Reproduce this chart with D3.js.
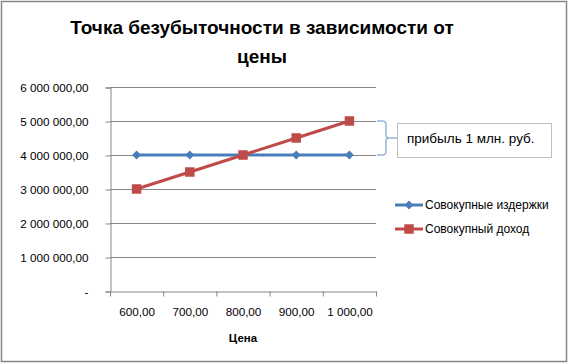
<!DOCTYPE html>
<html lang="ru">
<head>
<meta charset="UTF-8">
<title>Точка безубыточности</title>
<script src="https://d3js.org/d3.v7.min.js"></script>
<style>
  body { margin: 0; background: #fff; }
  text { font-family: "Liberation Sans", Arial, sans-serif; fill: #000; }
</style>
</head>
<body>
<svg id="chart" width="569" height="364"></svg>
<script>
// data
const prices = [600, 700, 800, 900, 1000];
const costs = [4000000, 4000000, 4000000, 4000000, 4000000];
const revenue = [3000000, 3500000, 4000000, 4500000, 5000000];
const yTicks = [0, 1000000, 2000000, 3000000, 4000000, 5000000, 6000000];
const seriesNames = ["Совокупные издержки", "Совокупный доход"];
const noteText = "прибыль 1 млн. руб.";

const svg = d3.select("#chart");
const blue = "#4a7ebb", red = "#be4b48", axisGrey = "#868686";

// outer frame
svg.append("rect")
  .attr("x", 1.5).attr("y", 1.5).attr("width", 565).attr("height", 360)
  .attr("fill", "#fff").attr("stroke", axisGrey).attr("stroke-width", 1.5);

// title
const title = svg.append("text").attr("text-anchor", "middle")
  .attr("font-weight", "bold").attr("font-size", 19);
title.append("tspan").attr("x", 262).attr("y", 34).text("Точка безубыточности в зависимости от");
title.append("tspan").attr("x", 262).attr("y", 63).text("цены");

// scales
const x = d3.scaleBand().domain(prices).range([110, 376]);
const y = d3.scaleLinear().domain([0, 6000000]).range([291, 87]);

const fmt = v => v === 0 ? "-" :
  d3.format(",.2f")(v).replace(/,/g, " ").replace(".", ",");

// gridlines
svg.append("g").selectAll("line").data(yTicks.filter(d => d > 0)).join("line")
  .attr("x1", 110).attr("x2", 376)
  .attr("y1", d => Math.round(y(d)) + 0.5).attr("y2", d => Math.round(y(d)) + 0.5)
  .attr("stroke", axisGrey);

// y axis
const yAxis = svg.append("g").attr("transform", "translate(110.5,0.5)")
  .call(d3.axisLeft(y).tickValues(yTicks).tickSize(5).tickPadding(17).tickFormat(fmt));
// x axis
const xAxis = svg.append("g").attr("transform", "translate(0.5,291.5)")
  .call(d3.axisBottom(x).tickSize(0).tickPadding(16).tickFormat(fmt));
// x ticks on band boundaries
xAxis.append("g").selectAll("line")
  .data(prices.map(p => x(p)).concat([x.range()[1]])).join("line")
  .attr("x1", d => d).attr("x2", d => d).attr("y1", 0).attr("y2", 5)
  .attr("stroke", axisGrey);

[yAxis, xAxis].forEach(g => {
  g.select(".domain").attr("stroke", axisGrey);
  g.selectAll(".tick line").attr("stroke", axisGrey);
  g.selectAll("text").attr("font-size", 11.7).attr("fill", "#000")
    .style("font-family", '"Liberation Sans", Arial, sans-serif');
});

svg.append("text").attr("x", 243).attr("y", 342).attr("text-anchor", "middle")
  .attr("font-weight", "bold").attr("font-size", 11.5).text("Цена");

// lines
const cx = d => x(d) + x.bandwidth() / 2;
const line = d3.line().x((d, i) => cx(prices[i])).y(d => y(d));

svg.append("path").datum(costs).attr("d", line)
  .attr("fill", "none").attr("stroke", blue).attr("stroke-width", 3);
svg.append("path").datum(revenue).attr("d", line)
  .attr("fill", "none").attr("stroke", red).attr("stroke-width", 3);

const diamond = d3.symbol().type(d3.symbolDiamond2).size(50);
const square = d3.symbol().type(d3.symbolSquare).size(90);

svg.append("g").selectAll("path").data(costs).join("path")
  .attr("transform", (d, i) => `translate(${cx(prices[i])},${y(d)})`)
  .attr("d", diamond).attr("fill", blue);
svg.append("g").selectAll("path").data(revenue).join("path")
  .attr("transform", (d, i) => `translate(${cx(prices[i])},${y(d)})`)
  .attr("d", square).attr("fill", red);

// bracket between revenue and costs at the last price
const yTop = y(revenue[revenue.length - 1]);
const yBot = y(costs[costs.length - 1]);
const yMid = (yTop + yBot) / 2;
const bx = 377;
svg.append("path")
  .attr("d", `M${bx},${yTop} L${bx + 5},${yTop} Q${bx + 9},${yTop} ${bx + 9},${yTop + 4}
    L${bx + 9},${yMid - 3} Q${bx + 9},${yMid} ${bx + 12},${yMid} L${bx + 20},${yMid}
    M${bx + 12},${yMid} Q${bx + 9},${yMid} ${bx + 9},${yMid + 3}
    L${bx + 9},${yBot - 4} Q${bx + 9},${yBot} ${bx + 5},${yBot} L${bx},${yBot}`)
  .attr("fill", "none").attr("stroke", "#95b3d7").attr("stroke-width", 1.5);

// note box
svg.append("rect").attr("x", 397.5).attr("y", 123.5).attr("width", 154).attr("height", 34)
  .attr("fill", "#fff").attr("stroke", "#bfbfbf");
svg.append("text").attr("x", 407).attr("y", yMid + 4.5).attr("font-size", 13.5)
  .text(noteText);

// legend
const legend = svg.append("g").selectAll("g").data(seriesNames).join("g")
  .attr("transform", (d, i) => `translate(395,${205 + i * 24})`);
legend.append("line").attr("x1", 0).attr("x2", 28)
  .attr("stroke", (d, i) => i ? red : blue).attr("stroke-width", 3);
legend.append("path").attr("transform", "translate(14,0)")
  .attr("d", (d, i) => i ? square() : diamond()).attr("fill", (d, i) => i ? red : blue);
legend.append("text").attr("x", 30).attr("y", 4).attr("font-size", 12).text(d => d);
</script>
</body>
</html>
